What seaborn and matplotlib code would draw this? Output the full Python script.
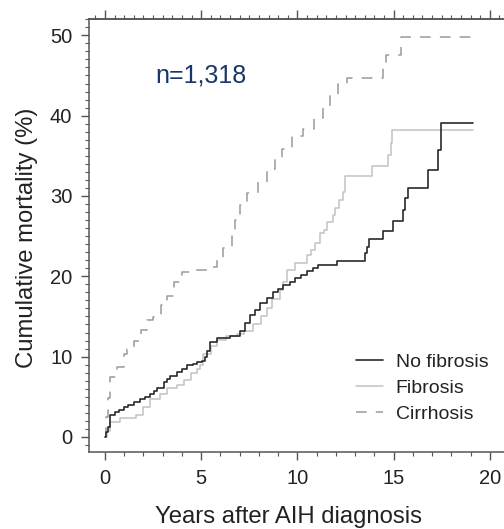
import pandas as pd
import matplotlib.pyplot as plt
import seaborn as sns
from matplotlib.ticker import MultipleLocator

sns.set_style("ticks")
plt.rcParams['font.family'] = ['Liberation Sans', 'DejaVu Sans']

# Cumulative mortality (%), step values (post)
t_nofib = [0, 0.05, 0.17, 0.28, 0.54, 0.75, 0.97, 1.2, 1.49, 1.84, 2.1, 2.36, 2.55, 2.7,
           3.05, 3.2, 3.4, 3.75, 4.0, 4.27, 4.6, 4.79, 5.04, 5.2, 5.3, 5.48, 5.83, 6.5,
           7.0, 7.27, 7.53, 7.8, 8.05, 8.4, 8.74, 9.0, 9.27, 9.6, 9.87, 10.2, 10.48,
           10.8, 11.08, 12.04, 13.5, 13.6, 13.7, 14.45, 14.98, 15.5, 15.58, 15.76,
           16.8, 17.3, 17.44, 19.1]
y_nofib = [0, 0.6, 1.3, 2.7, 3.1, 3.4, 3.7, 4.0, 4.3, 4.7, 5.0, 5.3, 5.7, 6.1,
           6.8, 7.2, 7.6, 8.1, 8.5, 8.9, 9.1, 9.3, 9.5, 10.0, 10.7, 11.8, 12.3, 12.6,
           13.2, 14.2, 15.2, 15.8, 16.7, 17.3, 18.0, 18.4, 18.9, 19.3, 19.8, 20.2, 20.6,
           21.0, 21.4, 21.9, 22.9, 23.6, 24.6, 25.7, 26.9, 28.3, 29.8, 31.0,
           33.2, 35.7, 39.1, 39.1]

t_fib = [0, 0.1, 0.28, 0.8, 1.6, 1.97, 2.35, 2.87, 3.2, 3.75, 4.1, 4.45, 4.8, 4.95,
         5.1, 5.5, 5.8, 6.3, 6.85, 7.2, 7.7, 8.1, 8.4, 8.7, 9.09, 9.27, 9.44, 9.87,
         10.48, 10.7, 10.9, 11.17, 11.38, 11.55, 11.83, 11.95, 12.17, 12.38, 12.47,
         13.9, 14.72, 14.84, 14.94, 19.1]
y_fib = [0, 0.8, 1.8, 2.3, 2.7, 3.7, 4.7, 5.3, 6.1, 6.5, 7.1, 8.0, 8.4, 9.0,
         10.3, 11.3, 12.1, 12.6, 12.8, 13.2, 14.0, 15.1, 16.0, 17.2, 18.3, 19.3, 20.8, 21.6,
         22.7, 23.3, 24.1, 25.4, 25.8, 26.8, 27.6, 28.5, 29.5, 30.5, 32.5,
         33.7, 35.1, 36.6, 38.2, 38.2]

t_cirr = [0, 0.07, 0.14, 0.28, 0.63, 0.97, 1.16, 1.5, 1.86, 2.2, 2.5, 2.9, 3.2, 3.6,
          4.0, 4.6, 5.3, 5.8, 6.15, 6.6, 6.75, 7.0, 7.36, 7.96, 8.4, 8.83, 9.2, 9.7,
          10.3, 10.85, 11.34, 11.69, 12.1, 12.6, 14.45, 14.6, 15.36, 19.1]
y_cirr = [0, 2.5, 4.8, 7.5, 8.7, 10.3, 11.0, 12.0, 13.3, 14.5, 14.9, 16.4, 17.6, 19.3,
          20.5, 20.8, 21.2, 22.1, 23.5, 25.4, 27.0, 28.9, 30.4, 31.7, 33.4, 34.6, 35.9, 37.5,
          38.4, 39.7, 41.1, 42.4, 44.0, 44.7, 46.3, 47.5, 49.8, 49.8]

fig = plt.figure(figsize=(5.04, 5.29), dpi=100)
ax = fig.add_axes([0.1766, 0.1456, 0.835, 0.818])

sns.lineplot(x=t_cirr, y=y_cirr, ax=ax, drawstyle='steps-post', color='#9a9a9a',
             lw=1.1, dashes=(7, 6), label='Cirrhosis', errorbar=None, zorder=2)
sns.lineplot(x=t_fib, y=y_fib, ax=ax, drawstyle='steps-post', color='#c2c2c2',
             lw=1.1, label='Fibrosis', errorbar=None, zorder=3)
sns.lineplot(x=t_nofib, y=y_nofib, ax=ax, drawstyle='steps-post', color='#2a2a2a',
             lw=1.2, label='No fibrosis', errorbar=None, zorder=4)

ax.set_xlim(-0.83, 21.04)
ax.set_ylim(-1.87, 52.0)

ax.xaxis.set_major_locator(MultipleLocator(5))
ax.xaxis.set_minor_locator(MultipleLocator(1))
ax.yaxis.set_major_locator(MultipleLocator(10))
ax.yaxis.set_minor_locator(MultipleLocator(1))

spine_col = '#555555'
for s in ['left', 'bottom', 'top']:
    ax.spines[s].set_color(spine_col)
    ax.spines[s].set_linewidth(1.1)
ax.spines['right'].set_visible(False)

ax.tick_params(which='major', length=6, width=1.0, color=spine_col,
               labelsize=14.5, labelcolor='#222222', pad=6)
ax.tick_params(which='minor', length=3, width=0.8, color=spine_col)

# top axis: tick marks only
top = ax.secondary_xaxis('top')
top.xaxis.set_major_locator(MultipleLocator(5))
top.xaxis.set_minor_locator(MultipleLocator(0.5))
top.tick_params(which='major', length=6.5, width=1.0, color=spine_col, labeltop=False)
top.tick_params(which='minor', length=3, width=0.8, color=spine_col)
top.spines['top'].set_color(spine_col)
top.spines['top'].set_linewidth(1.1)

ax.set_xlabel('Years after AIH diagnosis', fontsize=17.2, color='#222222')
ax.set_ylabel('Cumulative mortality (%)', fontsize=17.2, color='#222222')
ax.xaxis.set_label_coords(0.473, -0.125)
ax.yaxis.set_label_coords(-0.121, 0.495)

ax.text(2.6, 45, 'n=1,318', fontsize=18, color='#1a3668', ha='left', va='center')

handles, labels = ax.get_legend_handles_labels()
order = [2, 1, 0]
ax.legend([handles[i] for i in order], [labels[i] for i in order],
          loc='center left', bbox_to_anchor=(0.634, 0.148), frameon=False,
          fontsize=14, handlelength=1.4, handletextpad=0.65, labelspacing=0.43,
          borderpad=0, borderaxespad=0, labelcolor='#222222')

fig.savefig('out.png', dpi=100)
